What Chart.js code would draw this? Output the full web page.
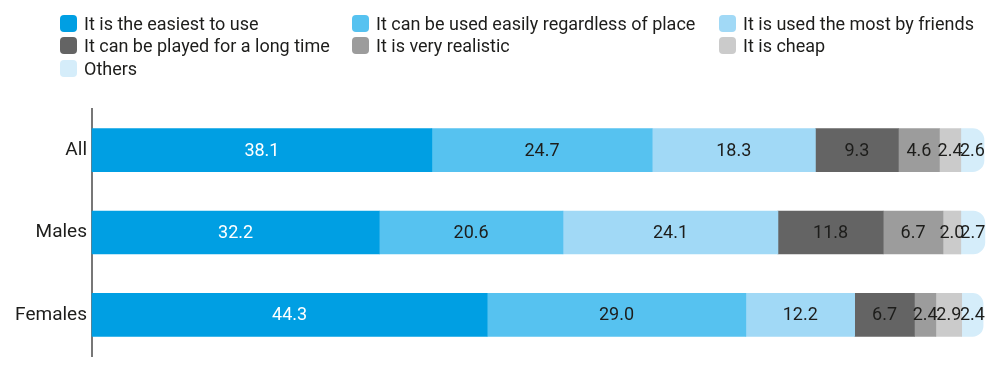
<!DOCTYPE html>
<html>
<head>
<meta charset="utf-8">
<script src="https://cdn.jsdelivr.net/npm/chart.js@4"></script>
<style>
  body { margin: 0; background: #fff; }
  #wrap { position: relative; width: 994px; height: 373px; }
  #legend {
    position: absolute; left: 60px; top: 12px;
    display: grid; grid-template-columns: 292px 367px auto;
    font-family: Roboto, "DejaVu Sans Condensed", sans-serif;
    font-size: 18px; color: #1d1d1b;
  }
  .item { display: flex; align-items: center; height: 22.5px; white-space: nowrap; }
  .box { width: 17px; height: 17px; border-radius: 4px; margin-right: 7px; flex: none; }
</style>
</head>
<body>
<div id="wrap">
  <canvas id="reasons"></canvas>
  <div id="legend"></div>
</div>
<script>
// Groups on the vertical axis
var groups = ['All', 'Males', 'Females'];

// Share of answers (%) for each reason, in the order All, Males, Females
var easiest = [38.1, 32.2, 44.3];
var anyPlace = [24.7, 20.6, 29.0];
var friends = [18.3, 24.1, 12.2];
var longTime = [9.3, 11.8, 6.7];
var realistic = [4.6, 6.7, 2.4];
var cheap = [2.4, 2.0, 2.9];
var others = [2.6, 2.7, 2.4];

var seriesNames = [
    'It is the easiest to use',
    'It can be used easily regardless of place',
    'It is used the most by friends',
    'It can be played for a long time',
    'It is very realistic',
    'It is cheap',
    'Others'
];
var seriesValues = [easiest, anyPlace, friends, longTime, realistic, cheap, others];
var seriesColors = ['#009fe3', '#56c2f0', '#a1d9f6', '#646464', '#9c9c9c', '#cbcbcb', '#d5edfa'];

var fontFamily = 'Roboto, "DejaVu Sans Condensed", sans-serif';

// Legend laid out in three columns
var legendEl = document.getElementById('legend');
seriesNames.forEach(function (name, i) {
    var item = document.createElement('div');
    item.className = 'item';
    item.innerHTML = '<span class="box" style="background:' + seriesColors[i] + '"></span>' + name;
    legendEl.appendChild(item);
});

// Writes each segment's value in the middle of the segment
var valueLabels = {
    id: 'valueLabels',
    afterDatasetsDraw: function (chart) {
        var ctx = chart.ctx;
        ctx.save();
        ctx.font = '18px ' + fontFamily;
        ctx.textAlign = 'center';
        ctx.textBaseline = 'middle';
        chart.data.datasets.forEach(function (ds, i) {
            chart.getDatasetMeta(i).data.forEach(function (bar, j) {
                var p = bar.getProps(['x', 'y', 'base'], true);
                ctx.fillStyle = i === 0 ? '#ffffff' : '#1d1d1b';
                ctx.fillText(ds.data[j].toFixed(1), (p.x + p.base) / 2, p.y + 1);
            });
        });
        ctx.restore();
    }
};

var datasets = seriesNames.map(function (name, i) {
    var last = i === seriesNames.length - 1;
    return {
        label: name,
        data: seriesValues[i],
        backgroundColor: seriesColors[i],
        borderWidth: 0,
        barThickness: 43,
        clip: false,
        borderRadius: last ? { topLeft: 0, bottomLeft: 0, topRight: 22, bottomRight: 22 } : 0,
        borderSkipped: false
    };
});

new Chart(document.getElementById('reasons').getContext('2d'), {
    type: 'bar',
    data: { labels: groups, datasets: datasets },
    options: {
        indexAxis: 'y',
        responsive: true,
        maintainAspectRatio: false,
        animation: false,
        layout: { padding: { top: 109, bottom: 17, right: 10, left: 0 } },
        plugins: {
            legend: { display: false },
            tooltip: { enabled: false }
        },
        scales: {
            x: {
                stacked: true,
                min: 0,
                max: 100,
                display: false
            },
            y: {
                stacked: true,
                grid: { display: false, drawTicks: false },
                border: { display: true, color: '#777777', width: 2 },
                ticks: {
                    color: '#1d1d1b',
                    padding: 5,
                    font: { family: fontFamily, size: 19 }
                },
                afterFit: function (scale) { scale.width = 92; }
            }
        }
    },
    plugins: [valueLabels]
});
</script>
</body>
</html>
